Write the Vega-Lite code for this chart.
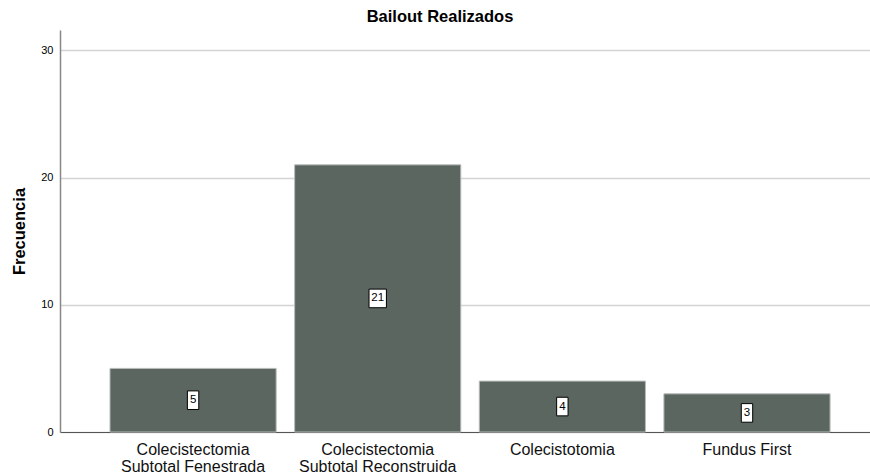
{
  "$schema": "https://vega.github.io/schema/vega-lite/v6.json",
  "autosize": "none",
  "width": 810,
  "height": 402,
  "padding": {"left": 60, "top": 30, "right": 0, "bottom": 43},
  "background": "white",
  "title": {"text": "Bailout Realizados", "font": "Liberation Sans", "fontSize": 16.5, "fontWeight": "bold", "color": "#000000", "anchor": "middle", "dx": -25, "offset": 5},
  "config": {"view": {"stroke": null}, "font": "Liberation Sans"},
  "data": {"values": [
    {"Bailout": "Colecistectomia\nSubtotal Fenestrada", "Frecuencia": 5},
    {"Bailout": "Colecistectomia\nSubtotal Reconstruida", "Frecuencia": 21},
    {"Bailout": "Colecistotomia", "Frecuencia": 4},
    {"Bailout": "Fundus First", "Frecuencia": 3}
  ]},
  "transform": [{"calculate": "datum.Frecuencia / 2", "as": "mid"}],
  "encoding": {
    "x": {"field": "Bailout", "type": "nominal", "sort": null,
      "scale": {"paddingInner": 0.1, "paddingOuter": 0.2435, "align": 0.556},
      "axis": {"title": null, "labelAngle": 0, "labelExpr": "split(datum.label, '\\n')", "labelFont": "Liberation Sans", "labelFontSize": 16, "labelColor": "#111111", "labelPadding": 9, "labelLineHeight": 17, "ticks": false, "domainColor": "#555555", "domainWidth": 1.2, "grid": false}}
  },
  "layer": [
    {
      "mark": {"type": "bar", "color": "#5b6660", "stroke": "#b8bcba", "strokeWidth": 1},
      "encoding": {
        "y": {"field": "Frecuencia", "type": "quantitative",
          "scale": {"domain": [0, 31.6], "nice": false},
          "axis": {"title": "Frecuencia", "titleFont": "Liberation Sans", "titleFontSize": 16.5, "titleFontWeight": "bold", "titleColor": "#000000", "titlePadding": 13, "values": [0, 10, 20, 30], "labelFont": "Liberation Sans", "labelFontSize": 11, "labelColor": "#000000", "labelPadding": 7, "ticks": false, "domainColor": "#888888", "domainWidth": 1.5, "gridColor": "#d4d4d4", "gridWidth": 1.5}}
      }
    },
    {
      "mark": {"type": "point", "filled": true, "fill": "white", "stroke": "#000000", "strokeWidth": 1, "opacity": 1, "size": 144},
      "encoding": {
        "y": {"field": "mid", "type": "quantitative"},
        "shape": {"condition": {"test": "datum.Frecuencia >= 10", "value": "M-1.45,-1.55H1.45V1.55H-1.45Z"}, "value": "M-0.95,-1.55H0.95V1.55H-0.95Z"}
      }
    },
    {
      "mark": {"type": "text", "font": "Liberation Sans", "fontSize": 11.5, "color": "#000000", "baseline": "middle", "align": "center"},
      "encoding": {
        "y": {"field": "mid", "type": "quantitative"},
        "text": {"field": "Frecuencia", "type": "quantitative"}
      }
    }
  ]
}
